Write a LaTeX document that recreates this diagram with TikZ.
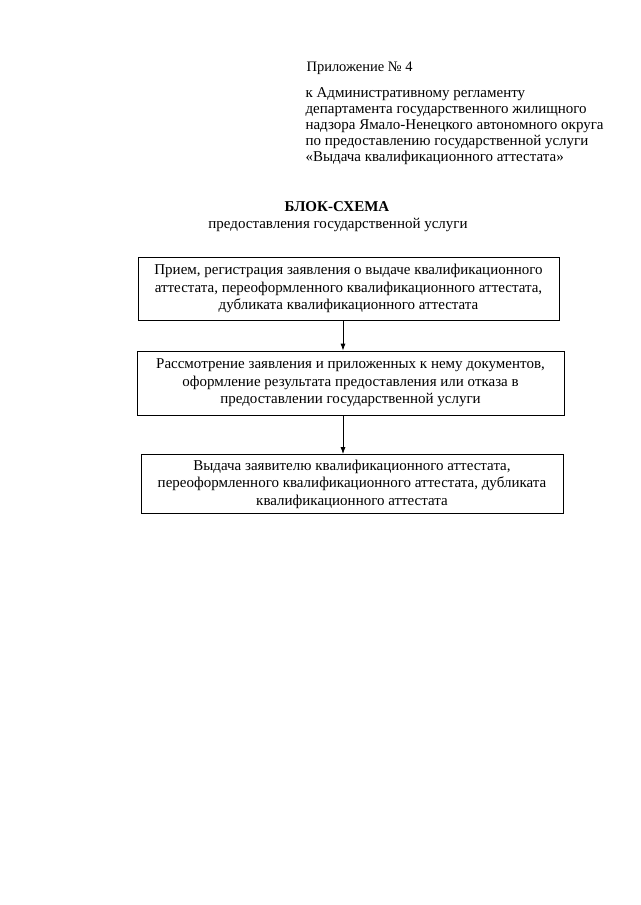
\documentclass[tikz,border=0pt]{standalone}
\usepackage{fontspec}
\setmainfont{Liberation Serif}
\usetikzlibrary{positioning,arrows.meta,calc}

\begin{document}
\begin{tikzpicture}[x=1pt, y=-1pt,
  font=\fontsize{15}{16}\selectfont,
  stepbox/.style={draw, line width=0.8pt, inner sep=2pt, align=center,
    font=\fontsize{15}{17.5}\selectfont},
  arr/.style={line width=0.8pt, -{Latex[length=7pt,width=5pt]}}]
\useasboundingbox[fill=white] (0,0) rectangle (640,905);
% header
\node[anchor=west, font=\fontsize{14.5}{16}\selectfont] (appx) at (303,68) {Приложение № 4};
\node[anchor=north west, align=left] (reg) at (302,84)
  {к Административному регламенту\\
   департамента государственного жилищного\\
   надзора Ямало-Ненецкого автономного округа\\
   по предоставлению государственной услуги\\
   «Выдача квалификационного аттестата»};
% title
\node[font=\fontsize{15}{16}\selectfont\bfseries] (title) at (337,207) {БЛОК-СХЕМА};
\node (subtitle) at (338,225) {предоставления государственной услуги};
% boxes
\node[stepbox, minimum width=421pt, minimum height=63pt] (b1) at (348.5,288.5)
  {Прием, регистрация заявления о выдаче квалификационного\\
   аттестата, переоформленного квалификационного аттестата,\\
   дубликата квалификационного аттестата};
\node[stepbox, minimum width=427pt, minimum height=64pt] (b2) at (350.5,383)
  {Рассмотрение заявления и приложенных к нему документов,\\
   оформление результата предоставления или отказа в\\
   предоставлении государственной услуги};
\node[stepbox, minimum width=422pt, minimum height=59pt] (b3) at (352,484)
  {Выдача заявителю квалификационного аттестата,\\
   переоформленного квалификационного аттестата, дубликата\\
   квалификационного аттестата};
% arrows
\coordinate (ax) at (343,0);
\draw[arr] (b1.south -| ax) -- (b2.north -| ax);
\draw[arr] (b2.south -| ax) -- (b3.north -| ax);
\end{tikzpicture}
\end{document}
